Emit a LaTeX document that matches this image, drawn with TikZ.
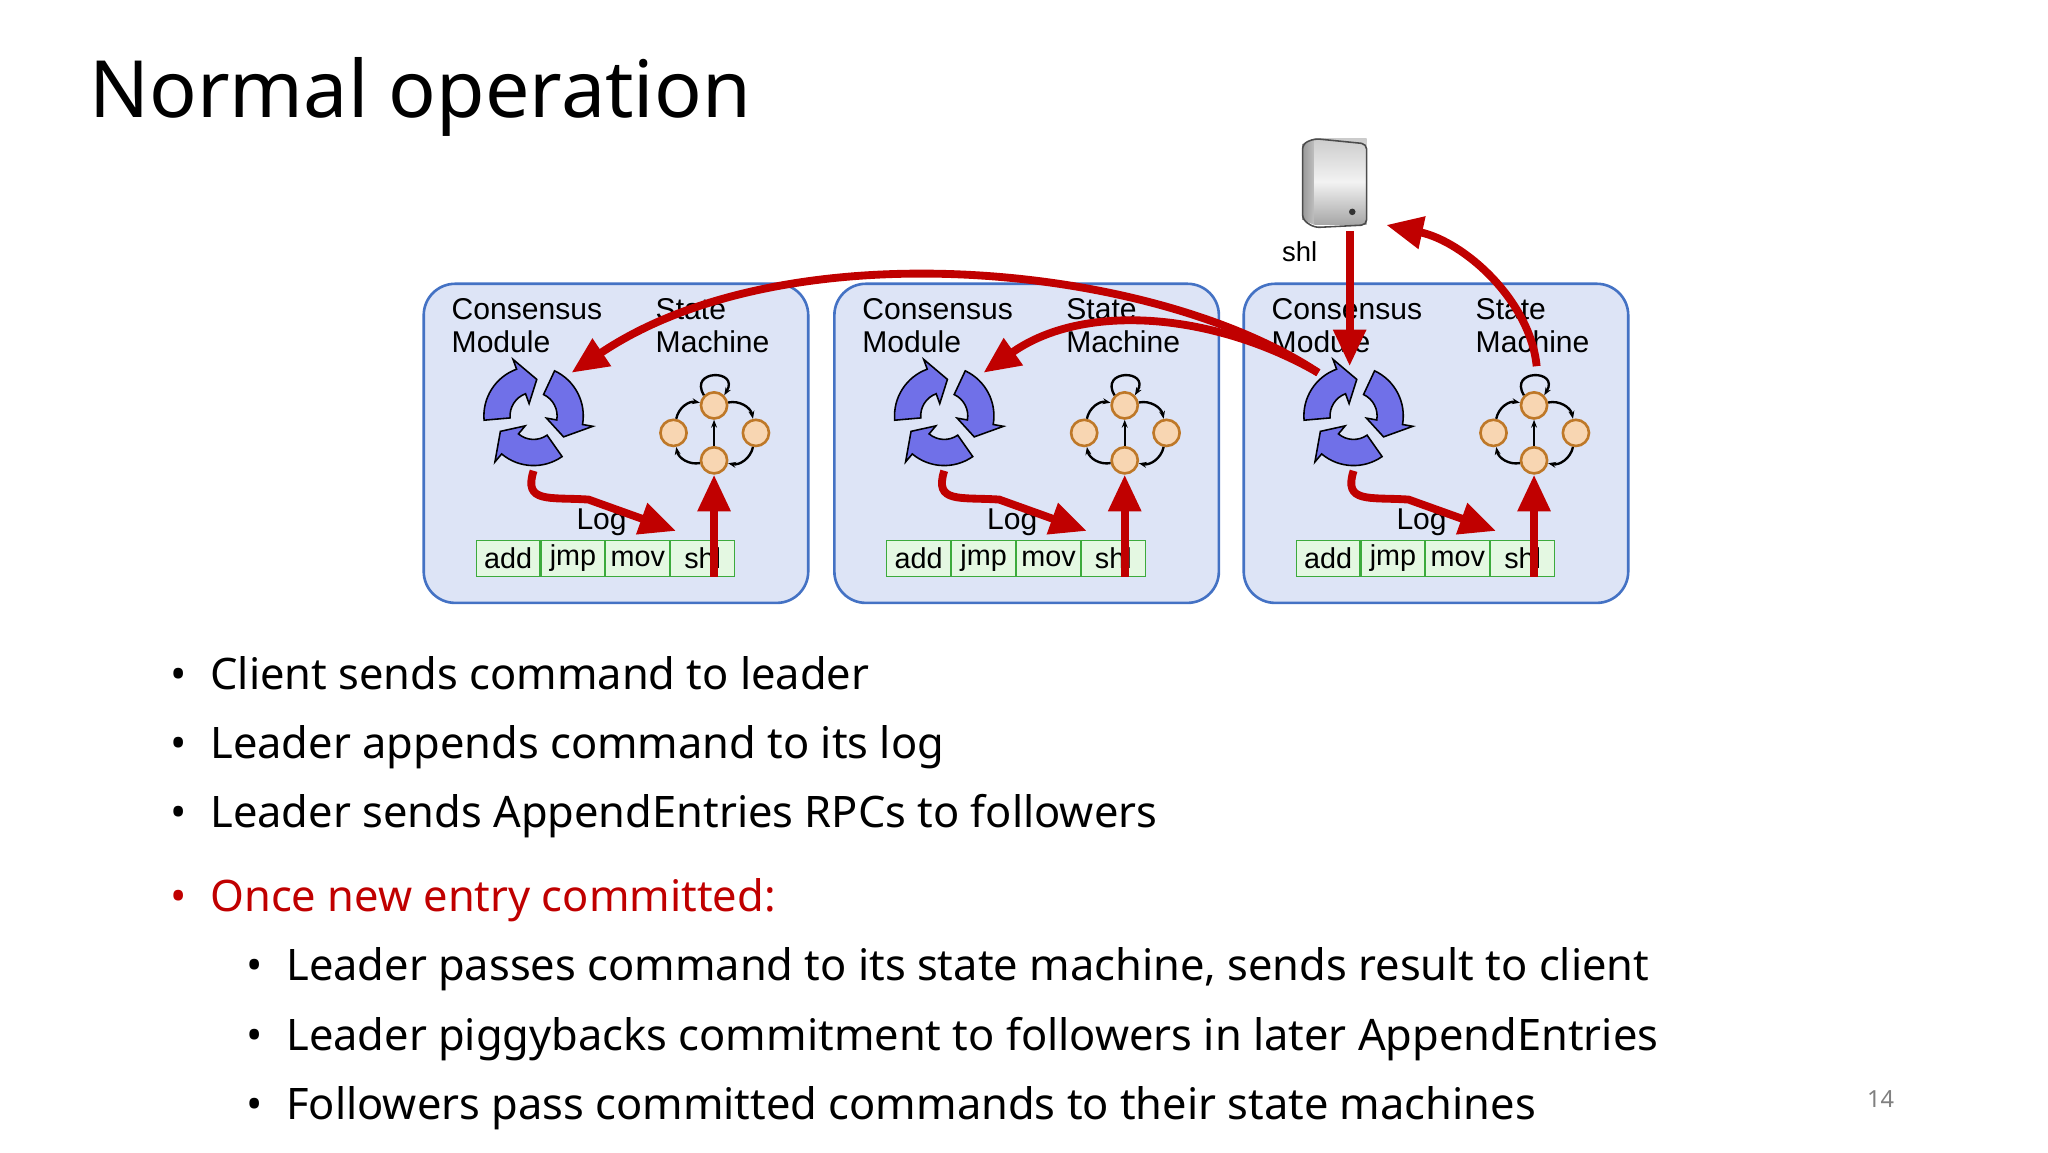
\documentclass[tikz,border=0pt]{standalone}
\usepackage{fontspec}
\setmainfont{Noto Sans}
\newfontfamily\diagfont{Liberation Sans}
\usetikzlibrary{arrows.meta}
\usetikzlibrary{positioning}
\definecolor{boxfill}{RGB}{221,228,246}
\definecolor{boxline}{RGB}{68,114,196}
\definecolor{logfill}{RGB}{228,248,226}
\definecolor{logline}{RGB}{60,170,60}
\definecolor{darkred}{RGB}{192,0,0}
\definecolor{cycfill}{RGB}{112,112,232}
\definecolor{stfill}{RGB}{248,214,178}
\definecolor{stline}{RGB}{190,120,40}
\tikzset{server/.style = {rectangle, rounded corners=12, minimum width=147pt, minimum height=122pt, draw=boxline, line width=1pt, fill=boxfill},
  label/.style = {font=\diagfont\fontsize{11.5}{12.5}\selectfont, align=left, anchor=north west, inner sep=0pt},
  cell/.style = {rectangle, minimum width=24.4pt, minimum height=14pt, draw=logline, fill=logfill, inner sep=0pt, font=\diagfont\fontsize{11}{12}\selectfont},
  state/.style = {circle, minimum size=10pt, inner sep=0pt, draw=stline, line width=1pt, fill=stfill},
  trans/.style = {-{Stealth[length=3pt]}, line width=0.9pt},
  redarr/.style = {draw=darkred, line width=3pt, -{Triangle[length=14pt,width=12pt]}},
  bullet/.style = {anchor=base west, inner sep=0pt, font=\fontsize{16.6}{19}\selectfont}}

\begin{document}
\begin{tikzpicture}[x=0.5pt, y=-0.5pt]
\useasboundingbox (0,0) rectangle (1566,881);

\node[anchor=base west, inner sep=0pt, font=\fontsize{30.2}{36}\selectfont] (title) at (68,90) {Normal operation};

\foreach \dx [count=\i] in {0,314,627} {
 \node (box\i) [server] at (471+\dx,339) {};
 \node (cmtxt\i) [label] at (345+\dx,228) {Consensus\\Module};
 \node (smtxt\i) [label] at (501+\dx,228) {State\\Machine};
 % consensus icon
 \coordinate (cm\i) at (408+\dx,318);
 \begin{scope}[shift={(cm\i)}, yscale=-1]
  \foreach \s in {185,65,-55}
   \filldraw[fill=cycfill, draw=black, line width=0.6pt]
     (\s:38) arc[start angle=\s, end angle=\s-75, radius=38] -- (\s-75:46)
     -- (\s-100:28) -- (\s-75:10) -- (\s-75:18)
     arc[start angle=\s-75, end angle=\s, radius=18] -- cycle;
 \end{scope}
 % state machine
 \node (st\i) [state] at (546+\dx,310) {};
 \node (sl\i) [state] at (515+\dx,331) {};
 \node (sr\i) [state] at (578+\dx,331) {};
 \node (sb\i) [state] at (546+\dx,352) {};
 \draw[trans] (sl\i) to[bend left=45] (st\i);
 \draw[trans] (st\i) to[bend left=45] (sr\i);
 \draw[trans] (sr\i) to[bend left=45] (sb\i);
 \draw[trans] (sb\i) to[bend left=45] (sl\i);
 \draw[trans] (sb\i) -- (st\i);
 \draw[trans] (st\i.north west) .. controls +(-12,-20) and +(12,-20) .. (st\i.north east);
 % log
 \node (logtxt\i) [label, anchor=base] at (460+\dx,405) {Log};
 \node (c1\i) [cell] at (388.5+\dx,427) {add};
 \node (c2\i) [cell, right=0pt of c1\i] {jmp};
 \node (c3\i) [cell, right=0pt of c2\i] {mov};
 \node (c4\i) [cell, right=0pt of c3\i] {shl};
 \coordinate (lt\i) at (517+\dx,406);
 \coordinate (cmb\i) at (408+\dx,360);
 \coordinate (up\i) at (546+\dx,441);
 \draw[redarr] (cmb\i) .. controls (400+\dx,385) and (420+\dx,380) .. (450+\dx,382) -- (lt\i);
 \draw[redarr] (up\i) -- (sb\i.south);
}

% client
\coordinate (srv) at (1020,140);
\shade[left color=gray!80, right color=gray!50] (996,110) -- (1005,106) -- (1005,172) -- (996,168) -- cycle;
\shade[top color=gray!40, bottom color=gray!70, middle color=gray!10] (1005,106) rectangle (1045,172);
\draw[gray!60!black, line width=0.6pt, rounded corners=2] (996,110) -- (1005,106) -- (1045,110) -- (1045,172) -- (1005,174) -- (996,168) -- cycle;
\fill[black!80] (1034,162) circle (2.5);
\node (client) [label, anchor=base west, font=\diagfont\fontsize{10.5}{12}\selectfont] at (980,200) {shl};

% leader traffic
\coordinate (cl1) at (437,285);
\coordinate (cl2) at (752,285);
\coordinate (cl3) at (1008,285);
\draw[redarr] (cl3) .. controls (880,200) and (600,175) .. (cl1);
\draw[redarr] (cl3) .. controls (930,240) and (830,230) .. (cl2);
\draw[redarr] (1032,177) -- (1032,280);
\draw[redarr] (1175,280) .. controls (1170,230) and (1120,185) .. (1060,172);

% bullets
\foreach \y/\t in {527/Client sends command to leader, 580/Leader appends command to its log, 633/Leader sends AppendEntries RPCs to followers}
 \node[bullet] at (130,\y) {\textbullet\hspace{9pt}\t};
\node[bullet, text=darkred] (once) at (130,697) {\textbullet\hspace{9pt}Once new entry committed:};
\foreach \y/\t in {750/{Leader passes command to its state machine, sends result to client}, 803/Leader piggybacks commitment to followers in later AppendEntries, 856/Followers pass committed commands to their state machines}
 \node[bullet] at (188,\y) {\textbullet\hspace{9pt}\t};
\node (page) [anchor=base, font=\fontsize{9}{10}\selectfont, text=gray] at (1438,847) {14};
\end{tikzpicture}
\end{document}
